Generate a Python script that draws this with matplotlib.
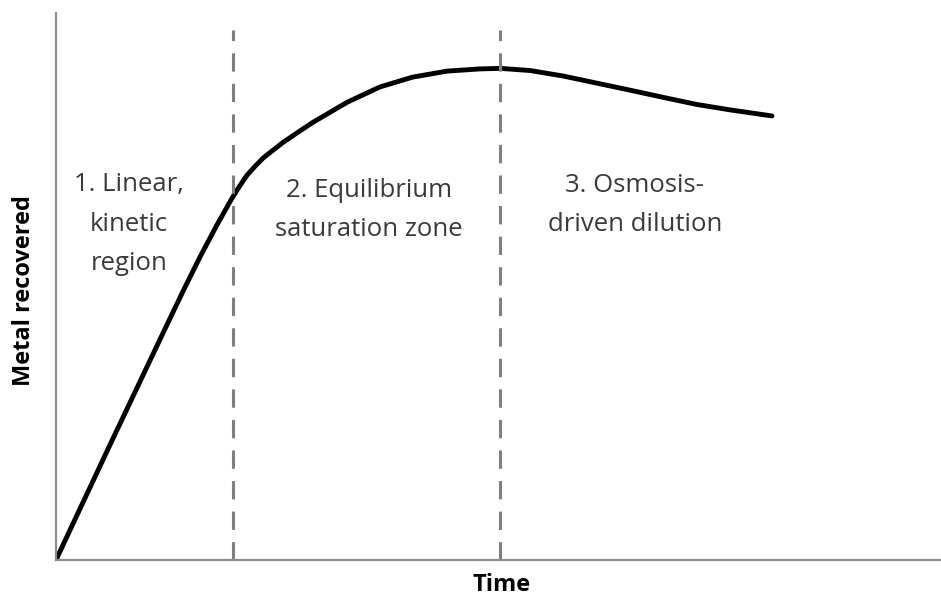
import matplotlib.pyplot as plt

# =========================================================
# DATA
# =========================================================
time = [0.0, 6.2, 12.3, 14.4, 16.3, 18.2, 19.9, 20.8, 21.6, 22.5,
        23.4, 25.6, 27.6, 29.0, 32.9, 36.6, 40.3, 44.2, 47.9, 50.2,
        53.6, 57.3, 61.1, 64.9, 68.6, 72.4, 76.2, 80.9]
metal = [0.0, 21.4, 42.2, 49.3, 55.5, 61.3, 66.2, 68.5, 70.4, 72.0,
         73.5, 76.3, 78.5, 80.0, 83.7, 86.5, 88.3, 89.4, 89.8, 89.9,
         89.5, 88.5, 87.2, 85.9, 84.6, 83.3, 82.3, 81.2]

boundaries = [20.0, 50.2]
zone_labels = ["1. Linear,\nkinetic\nregion",
               "2. Equilibrium\nsaturation zone",
               "3. Osmosis-\ndriven dilution"]
zone_x = [8.25, 35.4, 65.4]
zone_y = [61.4, 64.0, 64.9]

# =========================================================
# FIGURE
# =========================================================
fig = plt.figure(figsize=(9.41, 5.97), dpi=100)
ax = fig.add_axes([0.0595, 0.062, 0.9405, 0.916])

ax.plot(time, metal, color="black", linewidth=3.5,
        solid_capstyle="round", solid_joinstyle="round")

for b in boundaries:
    ax.axvline(b, ymin=0, ymax=0.97, color="#7f7f7f", linewidth=2.2,
               linestyle=(0, (6, 4)))

for lbl, x, y in zip(zone_labels, zone_x, zone_y):
    ax.text(x, y, lbl, ha="center", va="center", fontsize=18.5,
            color="#3a3a3a", family="Open Sans", linespacing=1.75)

ax.set_xlim(0, 100)
ax.set_ylim(0, 100)
ax.set_xticks([])
ax.set_yticks([])
for s in ["top", "right"]:
    ax.spines[s].set_visible(False)
for s in ["left", "bottom"]:
    ax.spines[s].set_color("#8c8c8c")
    ax.spines[s].set_linewidth(1.6)

fig.text(0.533, 0.02, "Time", ha="center", va="center",
         fontsize=17, fontweight="bold", family="Open Sans")
fig.text(0.0255, 0.513, "Metal recovered", ha="center", va="center",
         rotation=90, fontsize=17, fontweight="bold", family="Open Sans")

fig.savefig("out.png", dpi=100)
